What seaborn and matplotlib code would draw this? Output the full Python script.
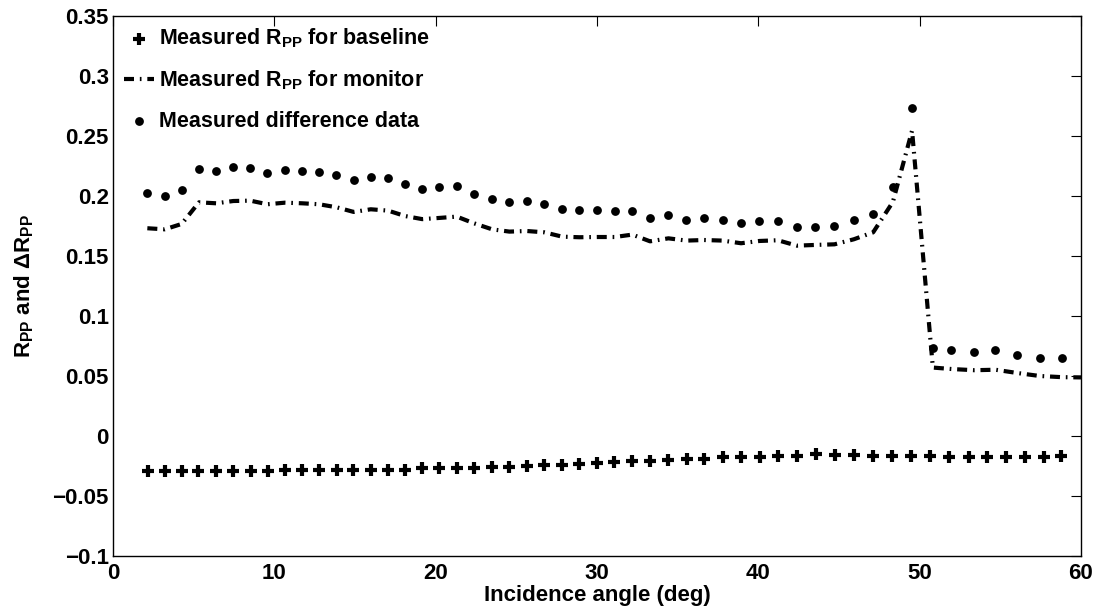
import numpy as np
import pandas as pd
import matplotlib
matplotlib.use("Agg")
import matplotlib.pyplot as plt
import seaborn as sns

# ---------------- data ----------------
baseline_angle = [2.15, 3.22, 4.26, 5.29, 6.39, 7.46, 8.54, 9.59, 10.66, 11.70,
                  12.77, 13.87, 14.90, 15.98, 17.07, 18.10, 19.14, 20.23, 21.31, 22.38,
                  23.48, 24.55, 25.65, 26.72, 27.82, 28.89, 29.99, 31.08, 32.19, 33.29,
                  34.43, 35.57, 36.66, 37.80, 38.93, 40.11, 41.25, 42.39, 43.56, 44.76,
                  45.94, 47.10, 48.31, 49.47, 50.65, 51.85, 53.03, 54.20, 55.36, 56.54,
                  57.68, 58.77]
baseline_rpp = [-0.0289, -0.0289, -0.0288, -0.0288, -0.0288, -0.0288, -0.0288, -0.0288, -0.0287, -0.0287,
                -0.0287, -0.0287, -0.0286, -0.0286, -0.0286, -0.0285, -0.0269, -0.0269, -0.0269, -0.0264,
                -0.0256, -0.0256, -0.0250, -0.0242, -0.0242, -0.0233, -0.0228, -0.0220, -0.0208, -0.0208,
                -0.0200, -0.0192, -0.0192, -0.0178, -0.0172, -0.0172, -0.0167, -0.0167, -0.0153, -0.0161,
                -0.0161, -0.0167, -0.0167, -0.0167, -0.0167, -0.0172, -0.0172, -0.0172, -0.0172, -0.0172,
                -0.0172, -0.0167]

diff_angle = [2.13, 3.21, 4.26, 5.33, 6.39, 7.46, 8.51, 9.57, 10.65, 11.72,
              12.77, 13.85, 14.92, 15.98, 17.05, 18.10, 19.17, 20.23, 21.31, 22.38,
              23.50, 24.57, 25.65, 26.74, 27.84, 28.91, 30.00, 31.10, 32.19, 33.29,
              34.43, 35.54, 36.64, 37.80, 38.93, 40.07, 41.21, 42.39, 43.54, 44.72,
              45.92, 47.12, 48.34, 49.53, 50.82, 51.97, 53.40, 54.70, 56.04, 57.43,
              58.83]
diff_rpp = [0.2022, 0.2000, 0.2047, 0.2228, 0.2211, 0.2244, 0.2233, 0.2189, 0.2214, 0.2211,
            0.2200, 0.2175, 0.2136, 0.2161, 0.2153, 0.2097, 0.2057, 0.2072, 0.2086, 0.2014,
            0.1972, 0.1950, 0.1956, 0.1933, 0.1892, 0.1886, 0.1883, 0.1872, 0.1878, 0.1819,
            0.1842, 0.1803, 0.1814, 0.1800, 0.1772, 0.1789, 0.1792, 0.1739, 0.1742, 0.1753,
            0.1800, 0.1853, 0.2078, 0.2735, 0.0731, 0.0717, 0.0703, 0.0714, 0.0678, 0.0653,
            0.0653]

monitor_angle = [2.13, 3.21, 4.26, 5.33, 6.39, 7.46, 8.51, 9.57, 10.65, 11.72,
                 12.77, 13.85, 14.92, 15.98, 17.05, 18.10, 19.17, 20.23, 21.31, 22.38,
                 23.50, 24.57, 25.65, 26.74, 27.84, 28.91, 30.00, 31.10, 32.19, 33.29,
                 34.43, 35.54, 36.64, 37.80, 38.93, 40.07, 41.21, 42.39, 43.54, 44.72,
                 45.92, 47.12, 48.34, 49.53, 50.82, 51.97, 53.40, 54.70, 56.04, 57.43,
                 58.83, 60.00]
monitor_rpp = [0.1731, 0.1722, 0.1767, 0.1947, 0.1939, 0.1958, 0.1961, 0.1931, 0.1944, 0.1939,
               0.1931, 0.1906, 0.1867, 0.1889, 0.1878, 0.1833, 0.1807, 0.1817, 0.1828, 0.1772,
               0.1722, 0.1703, 0.1708, 0.1697, 0.1661, 0.1656, 0.1658, 0.1658, 0.1678, 0.1622,
               0.1647, 0.1628, 0.1633, 0.1628, 0.1606, 0.1625, 0.1631, 0.1586, 0.1592, 0.1597,
               0.1639, 0.1697, 0.1950, 0.2544, 0.0570, 0.0558, 0.0548, 0.0552, 0.0525, 0.0500,
               0.0490, 0.0488]

x_ticks = [0, 10, 20, 30, 40, 50, 60]
y_ticks = [-0.1, -0.05, 0, 0.05, 0.1, 0.15, 0.2, 0.25, 0.3, 0.35]
y_tick_labels = ['\u22120.1', '\u22120.05', '0', '0.05', '0.1', '0.15', '0.2', '0.25', '0.3', '0.35']

label_baseline = 'Measured R$_\\mathrm{PP}$ for baseline'
label_monitor = 'Measured R$_\\mathrm{PP}$ for monitor'
label_diff = 'Measured difference data'
x_label = 'Incidence angle (deg)'
y_label = 'R$_\\mathrm{PP}$ and \u0394R$_\\mathrm{PP}$'

# ---------------- style ----------------
sns.set_style('white')
plt.rcParams['font.family'] = ['Liberation Sans', 'DejaVu Sans']
plt.rcParams['font.weight'] = 'bold'
plt.rcParams['text.color'] = 'black'
plt.rcParams['axes.labelcolor'] = 'black'
plt.rcParams['xtick.color'] = 'black'
plt.rcParams['ytick.color'] = 'black'
plt.rcParams['mathtext.fontset'] = 'custom'
plt.rcParams['mathtext.rm'] = 'Liberation Sans:bold'
plt.rcParams['mathtext.bf'] = 'Liberation Sans:bold'
plt.rcParams['mathtext.it'] = 'Liberation Sans:bold'
plt.rcParams['mathtext.sf'] = 'Liberation Sans:bold'

FS = 16

fig = plt.figure(figsize=(10.99, 6.14), dpi=100)
ax = fig.add_axes([0.1028, 0.0945, 0.8808, 0.8795])

df_base = pd.DataFrame({'angle': baseline_angle, 'rpp': baseline_rpp})
df_mon = pd.DataFrame({'angle': monitor_angle, 'rpp': monitor_rpp})
df_diff = pd.DataFrame({'angle': diff_angle, 'rpp': diff_rpp})

sns.scatterplot(data=df_base, x='angle', y='rpp', marker='+', s=80, linewidth=3.0,
                color='black', ax=ax, label=label_baseline, zorder=3)
sns.lineplot(data=df_mon, x='angle', y='rpp', color='black', linewidth=3.0,
             linestyle=(0, (2.4, 1.4, 0.4, 1.4)), ax=ax, label=label_monitor,
             sort=False, estimator=None, zorder=2)
sns.scatterplot(data=df_diff, x='angle', y='rpp', marker='o', s=40, linewidth=0,
                color='black', ax=ax, label=label_diff, zorder=3)

ax.set_xlim(0, 60)
ax.set_ylim(-0.1, 0.35)
ax.set_xticks(x_ticks)
ax.set_xticklabels([str(v) for v in x_ticks])
ax.set_yticks(y_ticks)
ax.set_yticklabels(y_tick_labels)
ax.tick_params(direction='in', length=7, width=0.8, top=True, right=True,
               labelsize=FS, color='black', labelcolor='black')
ax.tick_params(axis='x', pad=5)
ax.tick_params(axis='y', pad=3)
for lab in ax.get_xticklabels() + ax.get_yticklabels():
    lab.set_fontweight('bold')
for sp in ax.spines.values():
    sp.set_visible(True)
    sp.set_color('black')
    sp.set_linewidth(1.0)

ax.set_xlabel(x_label, fontsize=FS, fontweight='bold', labelpad=1, color='black')
ax.set_ylabel(y_label, fontsize=FS, fontweight='bold', labelpad=12, color='black')

leg = ax.legend(loc='upper left', frameon=False, handlelength=1.4,
                handletextpad=0.25, labelspacing=0.85, borderaxespad=0.15,
                borderpad=0.35, prop={'weight': 'bold', 'size': 15.5})
for t in leg.get_texts():
    t.set_fontweight('bold')
    t.set_color('black')

fig.savefig('out.png', dpi=100)
